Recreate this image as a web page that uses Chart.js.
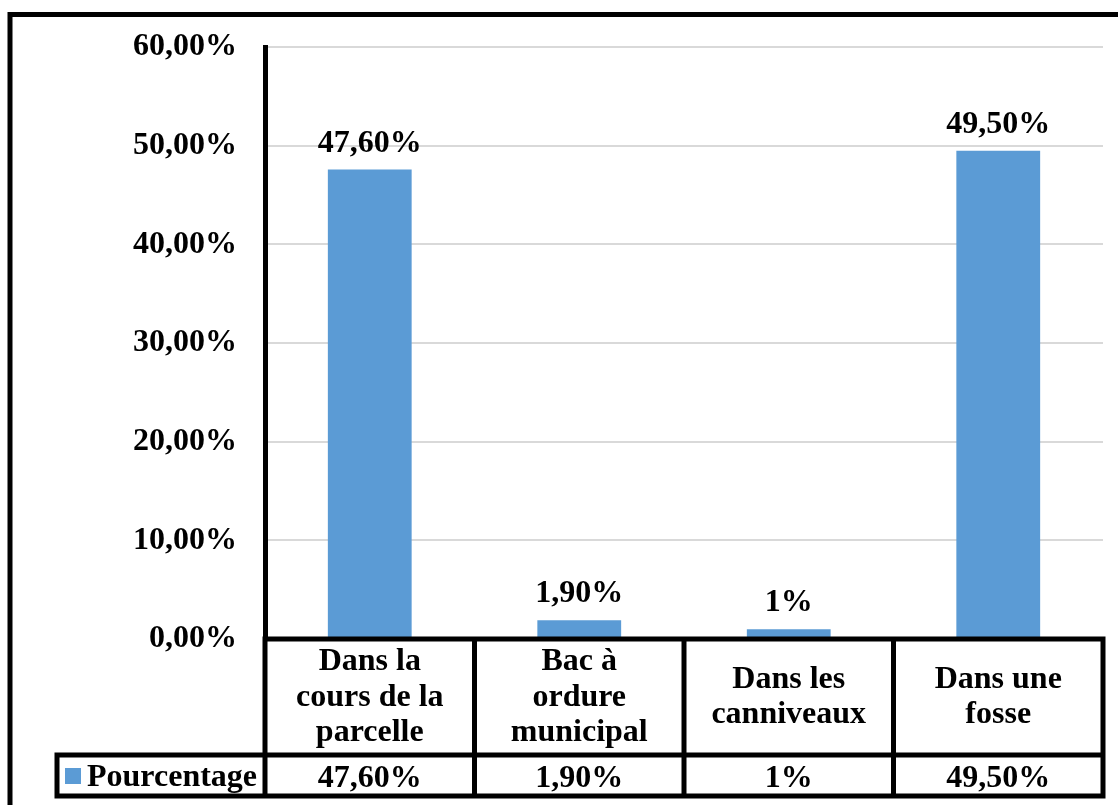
<!DOCTYPE html>
<html>
<head>
<meta charset="utf-8">
<title>Pourcentage</title>
<script src="https://cdn.jsdelivr.net/npm/chart.js@4.4.1/dist/chart.umd.min.js"></script>
<style>
  html, body { margin: 0; padding: 0; background: #fff; }
  canvas { display: block; }
</style>
</head>
<body>
<canvas id="chart" width="1118" height="805"></canvas>
<script>
// categories, one entry per table column (already split into lines)
const categories = [
  ['Dans la', 'cours de la', 'parcelle'],
  ['Bac à', 'ordure', 'municipal'],
  ['Dans les', 'canniveaux'],
  ['Dans une', 'fosse']
];
const seriesName = 'Pourcentage';
const percentages = [47.6, 1.9, 1, 49.5];
const valueLabels = ['47,60%', '1,90%', '1%', '49,50%'];
const yMin = 0;
const yMax = 60;
const yStep = 10;

const barColor = '#5B9BD5';
const fontFamily = '"Liberation Serif", "Times New Roman", serif';
const font = 'bold 32px ' + fontFamily;

function fmtTick(v) {
  return v.toFixed(2).replace('.', ',') + '%';
}

// data labels above the bars + data table under the plot
const tablePlugin = {
  id: 'tablePlugin',
  afterDraw(chart) {
    const ctx = chart.ctx;
    const area = chart.chartArea;
    const x = chart.scales.x;
    const meta = chart.getDatasetMeta(0);
    const n = categories.length;
    const colW = (area.right - area.left) / n;

    const rowTop = area.bottom;
    const rowMid = 755;
    const rowBot = 796;
    const legendLeft = 57;

    ctx.save();
    ctx.font = font;
    ctx.fillStyle = '#000';
    ctx.textAlign = 'center';
    ctx.textBaseline = 'alphabetic';

    // values over each bar
    meta.data.forEach((bar, i) => {
      ctx.fillText(valueLabels[i], bar.x, bar.y - 18);
    });

    // table lines
    ctx.strokeStyle = '#000';
    ctx.lineWidth = 5;
    ctx.lineCap = 'square';
    ctx.beginPath();
    ctx.moveTo(area.left, rowTop);
    ctx.lineTo(area.right, rowTop);
    ctx.moveTo(legendLeft, rowMid);
    ctx.lineTo(area.right, rowMid);
    ctx.moveTo(legendLeft, rowBot);
    ctx.lineTo(area.right, rowBot);
    ctx.moveTo(legendLeft, rowMid);
    ctx.lineTo(legendLeft, rowBot);
    for (let i = 0; i <= n; i++) {
      const px = area.left + i * colW;
      ctx.moveTo(px, rowTop);
      ctx.lineTo(px, rowBot);
    }
    ctx.stroke();

    // category names and values
    const lineH = 35.8;
    categories.forEach((lines, i) => {
      const cx = x.getPixelForValue(i);
      lines.forEach((t, j) => {
        const y = 705.5 + (j - (lines.length - 1) / 2) * lineH;
        ctx.fillText(t, cx, y);
      });
      ctx.fillText(valueLabels[i], cx, 787);
    });

    // legend key in the first cell
    ctx.fillStyle = barColor;
    ctx.fillRect(65, 768, 16, 16);
    ctx.fillStyle = '#000';
    ctx.textAlign = 'left';
    ctx.fillText(seriesName, 87, 786);

    // outer frame
    ctx.lineWidth = 5;
    ctx.strokeRect(10, 14.5, 1400, 1000);
    ctx.restore();
  }
};

new Chart(document.getElementById('chart'), {
  type: 'bar',
  data: {
    labels: categories.map(c => c.join(' ')),
    datasets: [{
      label: seriesName,
      data: percentages,
      backgroundColor: barColor,
      categoryPercentage: 1,
      barPercentage: 0.4
    }]
  },
  options: {
    responsive: false,
    devicePixelRatio: 1,
    animation: false,
    layout: { padding: { top: 45, right: 15, bottom: 0, left: 0 } },
    plugins: {
      legend: { display: false },
      tooltip: { enabled: false }
    },
    scales: {
      x: {
        grid: { display: false },
        border: { display: false },
        ticks: { display: false },
        afterFit(scale) { scale.height = 166; }
      },
      y: {
        min: yMin,
        max: yMax,
        ticks: {
          stepSize: yStep,
          padding: 28,
          color: '#000',
          font: { family: fontFamily, size: 32, weight: 'bold' },
          callback: v => fmtTick(v)
        },
        grid: { color: '#D9D9D9', lineWidth: 2, drawTicks: false },
        border: { color: '#000', width: 5 },
        afterFit(scale) { scale.width = 265; }
      }
    }
  },
  plugins: [tablePlugin]
});
</script>
</body>
</html>
